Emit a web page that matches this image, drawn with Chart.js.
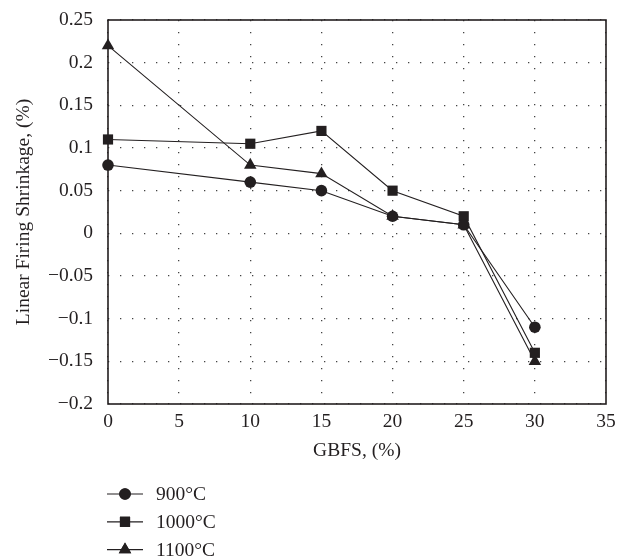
<!DOCTYPE html>
<html><head><meta charset="utf-8">
<script src="https://cdn.jsdelivr.net/npm/chart.js@4/dist/chart.umd.min.js"></script>
<style>html,body{margin:0;padding:0;background:#fff}#wrap{width:618px;height:560px}</style>
</head><body><div id="wrap"><canvas id="c" width="618" height="560"></canvas></div>
<script>
const gbfs = [0, 10, 15, 20, 25, 30];
const s900 = [0.08, 0.06, 0.05, 0.02, 0.01, -0.11];
const s1000 = [0.11, 0.105, 0.12, 0.05, 0.02, -0.14];
const s1100 = [0.22, 0.08, 0.07, 0.02, 0.01, -0.15];
const seriesNames = ['900°C', '1000°C', '1100°C'];
const yTickLabels = ['−0.2','−0.15','−0.1','−0.05','0','0.05','0.1','0.15','0.2','0.25'];
const xTickLabels = ['0','5','10','15','20','25','30','35'];

const FONT = "'Liberation Serif', 'DejaVu Serif', serif";
const FS = 19.5;
const INK = '#231f20';
const toPts = ys => gbfs.map((x, i) => ({x, y: ys[i]}));
const styles = [
  {pointStyle: 'circle', pointRadius: 5.8},
  {pointStyle: 'rect', pointRadius: 7.2},
  {pointStyle: 'triangle', pointRadius: 7.2}
];
const datasets = [s900, s1000, s1100].map((ys, i) => ({
  label: seriesNames[i],
  data: toPts(ys),
  borderColor: INK, backgroundColor: INK, borderWidth: 1.1,
  pointStyle: styles[i].pointStyle, pointRadius: styles[i].pointRadius,
  pointBackgroundColor: INK, pointBorderColor: INK, pointBorderWidth: 0,
  tension: 0, fill: false, clip: false
}));

const boxPlugin = {
  id: 'box',
  beforeDatasetsDraw(chart) {
    const {ctx, chartArea: a} = chart;
    ctx.save();
    ctx.strokeStyle = INK; ctx.lineWidth = 1.6;
    ctx.strokeRect(a.left, a.top, a.right - a.left, a.bottom - a.top);
    ctx.restore();
  },
  afterDraw(chart) {
    const {ctx} = chart;
    ctx.save();
    ctx.font = FS + "px " + FONT;
    ctx.textBaseline = 'middle';
    chart.data.datasets.forEach((ds, i) => {
      const y = 494 + i * 27.8;
      ctx.strokeStyle = INK; ctx.lineWidth = 1.2;
      ctx.beginPath(); ctx.moveTo(107, y); ctx.lineTo(143, y); ctx.stroke();
      Chart.helpers.drawPoint(ctx, {pointStyle: ds.pointStyle, radius: ds.pointRadius, borderWidth: 0}, 125, y);
      ctx.fillStyle = INK;
      ctx.fill();
      ctx.fillText(ds.label, 156, y + 1);
    });
    ctx.restore();
  }
};

const gridOpts = {drawTicks: false, color: '#444', lineWidth: 1.3};
const borderOpts = {display: false, dash: [1.3, 10.7]};

new Chart(document.getElementById('c'), {
  type: 'line',
  data: {datasets},
  plugins: [boxPlugin],
  options: {
    responsive: false, animation: false,
    layout: {padding: {left: 0, right: 12, top: 20, bottom: 90}},
    plugins: {legend: {display: false}, tooltip: {enabled: false}},
    scales: {
      x: {
        type: 'linear', min: 0, max: 35,
        afterFit(s) { s.height = 66; s.paddingLeft = 0; s.paddingRight = 0; },
        ticks: {stepSize: 5, padding: 6, color: INK, font: {family: FONT, size: FS},
          callback: (v) => xTickLabels[Math.round(v / 5)]},
        grid: gridOpts,
        border: borderOpts,
        title: {display: true, text: 'GBFS, (%)', color: INK, font: {family: FONT, size: FS}, padding: {top: 0, bottom: 7}}
      },
      y: {
        min: -0.2, max: 0.25,
        afterFit(s) { s.width = 108; s.paddingTop = 0; s.paddingBottom = 0; },
        ticks: {stepSize: 0.05, padding: 15, color: INK, font: {family: FONT, size: FS},
          callback: (v) => yTickLabels[Math.round((v + 0.2) / 0.05)]},
        grid: gridOpts,
        border: borderOpts,
        title: {display: true, text: 'Linear Firing Shrinkage, (%)', color: INK, font: {family: FONT, size: FS}, padding: {top: 12, bottom: 0}}
      }
    }
  }
});
</script></body></html>
